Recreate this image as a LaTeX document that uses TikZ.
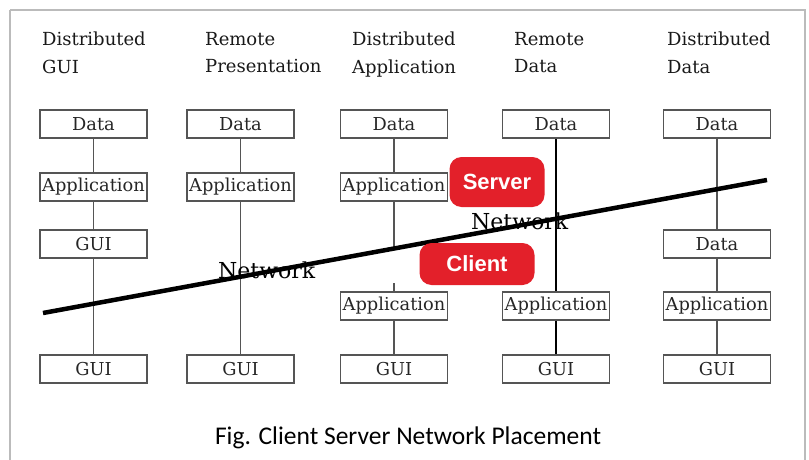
\documentclass[tikz,border=0pt]{standalone}
\usepackage{fontspec}
\setmainfont{DejaVu Serif}
\newfontfamily\diagfont{DejaVu Serif}
\newfontfamily\capfont{Carlito}
\newfontfamily\tagfont{Liberation Sans}
\definecolor{tagred}{HTML}{E3202A}
\definecolor{framegray}{HTML}{BBBBBB}
\definecolor{boxgray}{HTML}{555555}
\begin{document}
\begin{tikzpicture}[x=1pt,y=-1pt,
  tier/.style={draw=boxgray, line width=1.5pt, minimum width=107pt, minimum height=28pt, inner sep=0pt,
    font=\diagfont\fontsize{17.8}{17.8}\selectfont, text=black!85},
  link/.style={draw=boxgray, line width=1.4pt},
  strong/.style={draw=black, line width=2.4pt},
  head/.style={anchor=north west, align=left, inner sep=0pt,
    font=\diagfont\fontsize{18}{27.5}\selectfont, text=black!90},
  tag/.style={fill=tagred, rounded corners=12pt, text=white, inner sep=0pt,
    font=\tagfont\bfseries\fontsize{22}{22}\selectfont},
  netlabel/.style={inner sep=0pt, anchor=base west, font=\diagfont\fontsize{22}{22}\selectfont},
  net/.style={draw=black, line width=4.5pt}
]
\useasboundingbox (0,0) rectangle (809,460);
\draw[framegray, line width=2pt] (10,10) -- (10,470) (10,10) -- (805,10) -- (805,470);

% headings
\node[head] (h1) at (42,32) {Distributed\\GUI};
\node[head] (h2) at (205,32) {Remote\\Presentation};
\node[head] (h3) at (352,32) {Distributed\\Application};
\node[head] (h4) at (514,32) {Remote\\Data};
\node[head] (h5) at (667,32) {Distributed\\Data};

% column 1
\node[tier] (d1) at (93.5,124) {Data};
\node[tier] (a1) at (93.5,187) {Application};
\node[tier] (g1) at (93.5,244) {GUI};
\node[tier] (c1) at (93.5,369) {GUI};
\draw[link] (d1) -- (a1);
\draw[link] (a1) -- (g1);
\draw[link] (g1) -- (c1);

% column 2
\node[tier] (d2) at (240.5,124) {Data};
\node[tier] (a2) at (240.5,187) {Application};
\node[tier] (c2) at (240.5,369) {GUI};
\draw[link] (d2) -- (a2);
\draw[link] (a2) -- (c2);

% column 3
\node[tier] (d3) at (394,124) {Data};
\node[tier] (a3) at (394,187) {Application};
\node[tier] (b3) at (394,306) {Application};
\node[tier] (c3) at (394,369) {GUI};
\coordinate (n3) at (394,250);
\coordinate (s3) at (394,283);
\draw[link] (d3) -- (a3);
\draw[link] (a3) -- (n3);
\draw[link] (s3) -- (b3);
\draw[link] (b3) -- (c3);

% column 4
\node[tier] (d4) at (556,124) {Data};
\node[tier] (b4) at (556,306) {Application};
\node[tier] (c4) at (556,369) {GUI};
\draw[strong] (d4) -- (b4);
\draw[strong] (b4) -- (c4);

% column 5
\node[tier] (d5) at (717,124) {Data};
\node[tier] (e5) at (717,244) {Data};
\node[tier] (b5) at (717,306) {Application};
\node[tier] (c5) at (717,369) {GUI};
\draw[link] (d5) -- (e5);
\draw[link] (e5) -- (b5);
\draw[link] (b5) -- (c5);

% network labels and line
\node[netlabel] (nl1) at (218,278) {Network};
\node[netlabel] (nl2) at (471,229) {Network};
\coordinate (netA) at (43,313);
\coordinate (netB) at (767,180);
\draw[net] (netA) -- (netB);

% server / client tags
\node[tag, minimum width=95pt, minimum height=50pt] (srv) at (497,182) {Server};
\node[tag, minimum width=115pt, minimum height=42pt] (cli) at (477,264) {Client};

% caption
\node[inner sep=0pt, anchor=base, font=\capfont\fontsize{25.5}{25.5}\selectfont] (cap) at (408,444) {Fig. Client Server Network Placement};
\end{tikzpicture}
\end{document}
